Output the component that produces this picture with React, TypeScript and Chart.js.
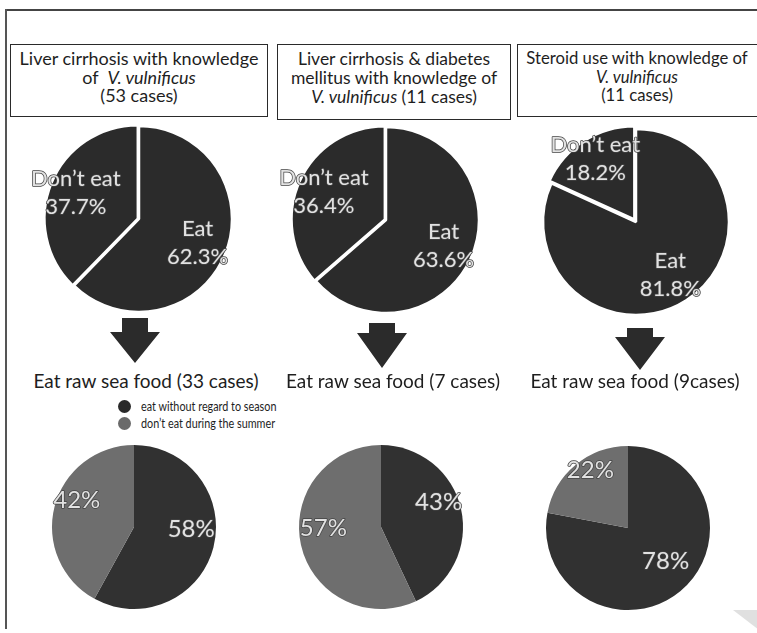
import React, { useEffect, useRef } from "react";
import { Chart, registerables } from "chart.js";

Chart.register(...registerables);

// ---------- data ----------
const titleLines = [
  ["Liver cirrhosis with knowledge", "of  V. vulnificus", "(53 cases)"],
  ["Liver cirrhosis & diabetes", "mellitus with knowledge of", "V. vulnificus (11 cases)"],
  ["Steroid use with knowledge of", "V. vulnificus", "(11 cases)"],
];
const topCategories = ["Eat", "Don\u2019t eat"];
const topValues = [
  [62.3, 37.7],
  [63.6, 36.4],
  [81.8, 18.2],
];
const subHeadings = [
  "Eat raw sea food (33 cases)",
  "Eat raw sea food (7 cases)",
  "Eat raw sea food (9cases)",
];
const bottomCategories = ["eat without regard to season", "don\u2019t eat during the summer"];
const bottomValues = [
  [58, 42],
  [43, 57],
  [78, 22],
];

// ---------- style ----------
const TOP_COLORS = ["#2b2b2b", "#2b2b2b"];
const BOTTOM_COLORS = ["#313131", "#6e6e6e"];
const LEGEND_COLORS = ["#2a2a2a", "#6a6a6a"];
const FONT = "Lato, 'Open Sans', sans-serif";

type PieProps = {
  values: number[];
  colors: string[];
  cx: number;
  cy: number;
  radius: number;
  size: number;
  border: number;
  offsets: number[];
  fontSize: number;
  lineHeight: number;
  factor: number;
  yShift: number;
  lines: (i: number) => string[];
};

function Pie(p: PieProps) {
  const ref = useRef<HTMLCanvasElement | null>(null);
  useEffect(() => {
    if (!ref.current) return;
    const maxOff = Math.max(...p.offsets);
    const pad = (p.size - 2 * p.radius - (p.border + maxOff)) / 2;
    const plugin = {
      id: "sliceLabels",
      afterDatasetsDraw(chart: any) {
        const ctx = chart.ctx as CanvasRenderingContext2D;
        const meta = chart.getDatasetMeta(0);
        ctx.save();
        ctx.font = `${p.fontSize}px ${FONT}`;
        ctx.textAlign = "center";
        ctx.textBaseline = "middle";
        ctx.lineJoin = "round";
        meta.data.forEach((arc: any, i: number) => {
          const a = arc.getProps(["x", "y", "startAngle", "endAngle", "outerRadius"], true);
          const off = arc.options.offset || 0;
          const mid = (a.startAngle + a.endAngle) / 2;
          const d = a.outerRadius * p.factor + off;
          const x = a.x + Math.cos(mid) * d;
          const y = a.y + Math.sin(mid) * d + p.yShift;
          const ls = p.lines(i);
          ls.forEach((t, k) => {
            const yy = y + (k - (ls.length - 1) / 2) * p.lineHeight;
            ctx.lineWidth = 1.5;
            ctx.strokeStyle = "#444444";
            ctx.strokeText(t, x, yy);
            ctx.fillStyle = "#e2e2e2";
            ctx.fillText(t, x, yy);
          });
        });
        ctx.restore();
      },
    };
    const chart = new Chart(ref.current, {
      type: "pie",
      data: {
        labels: p.values.map((_, i) => String(i)),
        datasets: [
          {
            data: p.values,
            backgroundColor: p.colors,
            borderColor: "#ffffff",
            borderWidth: p.border,
            offset: p.offsets,
            hoverOffset: 0,
          },
        ],
      },
      options: {
        animation: false,
        responsive: false,
        maintainAspectRatio: false,
        devicePixelRatio: 1,
        layout: { padding: pad },
        events: [],
        plugins: {
          legend: { display: false },
          tooltip: { enabled: false },
          title: { display: false },
        },
      },
      plugins: [plugin],
    });
    return () => chart.destroy();
  }, []);
  return (
    <canvas
      ref={ref}
      width={p.size}
      height={p.size}
      style={{
        position: "absolute",
        left: p.cx - p.size / 2,
        top: p.cy - p.size / 2,
        width: p.size,
        height: p.size,
      }}
    />
  );
}

function TitleLine({ text }: { text: string }) {
  const key = "V. vulnificus";
  const idx = text.indexOf(key);
  if (idx < 0) return <div style={{ whiteSpace: "pre" }}>{text}</div>;
  return (
    <div style={{ whiteSpace: "pre" }}>
      {text.slice(0, idx)}
      <i>{key}</i>
      {text.slice(idx + key.length)}
    </div>
  );
}

function Arrow({ cx, top, headY, tip }: { cx: number; top: number; headY: number; tip: number }) {
  const sw = 13;
  const hw = 25;
  const w = hw * 2;
  const h = tip - top;
  const hy = headY - top;
  return (
    <div
      style={{
        position: "absolute",
        left: cx - hw,
        top,
        width: w,
        height: h,
        background: "#2b2b2b",
        clipPath: `polygon(${hw - sw}px 0px, ${hw + sw}px 0px, ${hw + sw}px ${hy}px, ${w}px ${hy}px, ${hw}px ${h}px, 0px ${hy}px, ${hw - sw}px ${hy}px)`,
      }}
    />
  );
}

export default function App() {
  useEffect(() => {
    document.body.style.margin = "0";
  }, []);

  const boxes = [
    { left: 10, top: 44, width: 258, height: 73 },
    { left: 277, top: 44, width: 234, height: 76 },
    { left: 517, top: 44, width: 250, height: 73 },
  ];
  const boxFont = [18, 17.5, 16.7];
  const boxTextShift = [0, 0, -10];
  const topCenters = [
    [139, 219],
    [386, 220],
    [636, 222],
  ];
  const topOffsets = [
    [0, 5],
    [0, 5],
    [0, 12],
  ];
  const bottomCenters = [
    [134, 527],
    [381, 527],
    [628, 528],
  ];
  const subCenters = [
    [146, 381],
    [393, 381],
    [635, 381],
  ];
  const arrows = [
    { cx: 135, top: 318, headY: 332, tip: 363 },
    { cx: 382, top: 323, headY: 333, tip: 368 },
    { cx: 640, top: 328, headY: 337, tip: 370 },
  ];

  return (
    <div
      style={{
        position: "absolute",
        left: 0,
        top: 0,
        width: 757,
        height: 633,
        overflow: "hidden",
        background: "#ffffff",
        fontFamily: FONT,
        color: "#1e1e1e",
      }}
    >
      {/* frame */}
      <div style={{ position: "absolute", left: 5, top: 9, width: 800, height: 2, background: "#444" }} />
      <div style={{ position: "absolute", left: 5, top: 9, width: 2, height: 620, background: "#555" }} />

      {titleLines.map((lines, i) => (
        <div
          key={"t" + i}
          style={{
            position: "absolute",
            ...boxes[i],
            boxSizing: "border-box",
            border: "1.5px solid #2a2a2a",
            paddingBottom: 7,
            paddingRight: boxTextShift[i] < 0 ? -boxTextShift[i] : 0,
            display: "flex",
            flexDirection: "column",
            justifyContent: "center",
            alignItems: "center",
            fontSize: boxFont[i],
            lineHeight: "18.7px",
            textAlign: "center",
          }}
        >
          {lines.map((l, k) => (
            <TitleLine key={k} text={l} />
          ))}
        </div>
      ))}

      {topValues.map((vals, i) => (
        <Pie
          key={"p" + i}
          values={vals}
          colors={TOP_COLORS}
          cx={topCenters[i][0]}
          cy={topCenters[i][1]}
          radius={93}
          size={250}
          border={2.5}
          offsets={topOffsets[i]}
          fontSize={22}
          lineHeight={28}
          factor={0.68}
          yShift={0}
          lines={(k) => [topCategories[k], vals[k].toFixed(1) + "%"]}
        />
      ))}

      {arrows.map((a, i) => (
        <Arrow key={"a" + i} {...a} />
      ))}

      {subHeadings.map((s, i) => (
        <div
          key={"s" + i}
          style={{
            position: "absolute",
            left: subCenters[i][0] - 150,
            top: subCenters[i][1] - 13,
            width: 300,
            height: 26,
            lineHeight: "26px",
            textAlign: "center",
            fontSize: 19,
            whiteSpace: "nowrap",
          }}
        >
          {s}
        </div>
      ))}

      {bottomCategories.map((c, i) => (
        <div
          key={"l" + i}
          style={{
            position: "absolute",
            left: 118,
            top: 398 + i * 17,
            height: 16,
            display: "flex",
            alignItems: "center",
            whiteSpace: "nowrap",
          }}
        >
          <span
            style={{
              display: "inline-block",
              width: 13,
              height: 13,
              borderRadius: "50%",
              background: LEGEND_COLORS[i],
              marginRight: 10,
            }}
          />
          <span
            style={{
              display: "inline-block",
              fontFamily: FONT,
              fontSize: 13.5,
              transform: "scaleX(0.8)",
              transformOrigin: "left center",
            }}
          >
            {c}
          </span>
        </div>
      ))}

      {bottomValues.map((vals, i) => (
        <Pie
          key={"b" + i}
          values={vals}
          colors={BOTTOM_COLORS}
          cx={bottomCenters[i][0]}
          cy={bottomCenters[i][1]}
          radius={82}
          size={220}
          border={0}
          offsets={[0, 0]}
          fontSize={24}
          lineHeight={26}
          factor={0.72}
          yShift={-12}
          lines={(k) => [vals[k] + "%"]}
        />
      ))}

      {/* corner mark */}
      <div
        style={{
          position: "absolute",
          left: 733,
          top: 610,
          width: 26,
          height: 20,
          background: "#e0e0e0",
          clipPath: "polygon(0 0, 100% 0, 100% 100%)",
        }}
      />
    </div>
  );
}
